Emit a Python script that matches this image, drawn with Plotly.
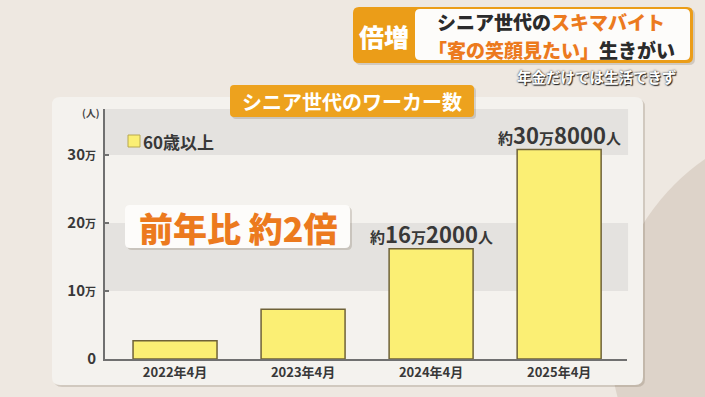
import plotly.graph_objects as go

# ---- data ----
categories = ["2022年4月", "2023年4月", "2024年4月", "2025年4月"]
workers = [27000, 73000, 162000, 308000]
labeled = [False, False, True, True]
series_name = "60歳以上"
y_tick_vals = [0, 100000, 200000, 300000]
y_tick_text = ["0", "10<span style='font-size:11px'>万</span>",
               "20<span style='font-size:11px'>万</span>",
               "30<span style='font-size:11px'>万</span>"]
y_max = 367600
band_ranges = [(100000, 200000), (300000, y_max)]
unit_label = "(人)"
chart_title = "シニア世代のワーカー数"
callout = "前年比 約2倍"
header_tag = "倍増"
header_line1 = ("シニア世代の", "スキマバイト")
header_line2 = ("「客の笑顔見たい」", "生きがい")
subheader = "年金だけでは生活できず"

FONT = "Noto Sans CJK JP"
DARK = "#383838"
ORANGE = "#ec7a1e"
W, H = 705, 397
ML, MR, MT, MB = 105, 78, 109, 38
PW, PH = W - ML - MR, H - MT - MB


def X(px):
    return (px - ML) / PW


def Y(py):
    return (H - MB - py) / PH


def rrect(x0, y0, x1, y1, r):
    # rounded rectangle in pixel coords -> path in paper coords
    pts = [
        f"M{X(x0 + r)},{Y(y0)}",
        f"L{X(x1 - r)},{Y(y0)}",
        f"Q{X(x1)},{Y(y0)} {X(x1)},{Y(y0 + r)}",
        f"L{X(x1)},{Y(y1 - r)}",
        f"Q{X(x1)},{Y(y1)} {X(x1 - r)},{Y(y1)}",
        f"L{X(x0 + r)},{Y(y1)}",
        f"Q{X(x0)},{Y(y1)} {X(x0)},{Y(y1 - r)}",
        f"L{X(x0)},{Y(y0 + r)}",
        f"Q{X(x0)},{Y(y0)} {X(x0 + r)},{Y(y0)}",
        "Z",
    ]
    return " ".join(pts)


shapes = []


def box(x0, y0, x1, y1, r, fill, shadow=True, line=None, layer="below"):
    if shadow:
        shapes.append(dict(type="path", xref="paper", yref="paper",
                           path=rrect(x0 + 2, y0 + 2, x1 + 2, y1 + 2, r),
                           fillcolor="rgba(80,60,40,0.18)", line=dict(width=0),
                           layer=layer))
    shapes.append(dict(type="path", xref="paper", yref="paper",
                       path=rrect(x0, y0, x1, y1, r), fillcolor=fill,
                       line=line or dict(width=0), layer=layer))


def note(px, py, text, size, color, weight=700, xanchor="center", **kw):
    return dict(x=X(px), y=Y(py), xref="paper", yref="paper", text=text,
                showarrow=False, xanchor=xanchor, yanchor="middle",
                font=dict(family=FONT, size=size, color=color, weight=weight, **kw))


# background decoration: darker region on right
shapes.append(dict(type="circle", xref="paper", yref="paper",
                   x0=X(610), x1=X(1050), y0=Y(560), y1=Y(120),
                   fillcolor="#ddd3c9", line=dict(width=0), layer="below"))
# panel
box(52, 97, 643, 385, 8, "#f4f2ee", shadow=True)
# gray bands
for lo, hi in band_ranges:
    shapes.append(dict(type="rect", xref="paper", yref="y", x0=0, x1=1.002,
                       y0=lo, y1=hi, fillcolor="#e4e2df", line=dict(width=0),
                       layer="below"))

fig = go.Figure()
fig.add_trace(go.Bar(
    x=categories, y=workers, name=series_name, width=0.656,
    marker=dict(color="#fbef74", line=dict(color="#6f6238", width=1.5)),
    showlegend=False, hoverinfo="skip",
))

annotations = []
# value labels
for c, v, show in zip(categories, workers, labeled):
    if not show:
        continue
    man, rest = divmod(v, 10000)
    txt = (f"<span style='font-size:15px'>約</span>{man}"
           f"<span style='font-size:15px'>万</span>{rest}"
           f"<span style='font-size:15px'>人</span>")
    annotations.append(dict(x=c, y=v, xref="x", yref="y", text=txt,
                            showarrow=False, xanchor="center", yanchor="bottom",
                            yshift=-2,
                            font=dict(family=FONT, size=22, color=DARK, weight=700)))

# unit label
annotations.append(note(91, 112, unit_label, 10, "#444"))

# legend (manual)
shapes.append(dict(type="rect", xref="paper", yref="paper",
                   x0=X(128), x1=X(140), y0=Y(147), y1=Y(135),
                   fillcolor="#fbef74", line=dict(color="#b8a850", width=1)))
annotations.append(note(141, 141, series_name, 17, DARK, xanchor="left"))

# chart title box
box(230, 85, 474, 117, 4, "#eda21e", shadow=True, layer="above")
annotations.append(note(352, 101, chart_title, 20, "white"))

# callout box
box(125, 205, 350, 248, 5, "#fdfcfa", shadow=True, layer="above")
annotations.append(note(238, 227, callout, 34, ORANGE, weight=900))

# header
box(353, 7, 693, 63, 6, "#eb9d18", shadow=True, layer="above")
box(415, 9, 690, 60, 5, "#fdfcfa", shadow=False, layer="above")
annotations.append(note(384, 36, header_tag, 25, "white", weight=900))
annotations.append(note(551, 22,
                        f"{header_line1[0]}<span style='color:{ORANGE}'>{header_line1[1]}</span>",
                        19, "#2b2b2b", weight=900))
annotations.append(note(551, 49.5,
                        f"<span style='color:{ORANGE}'>{header_line2[0]}</span>{header_line2[1]}",
                        19, "#2b2b2b", weight=900))
annotations.append(note(597, 76, subheader, 14.5, "white",
                        shadow="0 0 2px #222, 1px 1px 1px #222"))

fig.update_layout(
    width=W, height=H,
    margin=dict(l=ML, r=MR, t=MT, b=MB, pad=0),
    paper_bgcolor="#eee8e1",
    plot_bgcolor="rgba(0,0,0,0)",
    font=dict(family=FONT, color=DARK),
    shapes=shapes,
    annotations=annotations,
    xaxis=dict(
        type="category", categoryorder="array", categoryarray=categories,
        range=[-0.547, 3.53], showgrid=False, zeroline=False,
        showline=True, linecolor="#707070", linewidth=2,
        ticks="", tickfont=dict(family=FONT, size=13, color=DARK, weight=700),
        fixedrange=True,
    ),
    yaxis=dict(
        range=[0, y_max], tickvals=y_tick_vals, ticktext=y_tick_text,
        showgrid=False, zeroline=False, showline=True, linecolor="#707070",
        linewidth=2, ticks="inside", ticklen=4, tickwidth=2, tickcolor="#707070",
        ticklabelstandoff=4,
        tickfont=dict(family=FONT, size=15, color=DARK, weight=700),
        fixedrange=True,
    ),
    showlegend=False,
)

fig.write_html("out.html", config={"displayModeBar": False},
               post_script="document.body.style.margin='0';document.body.style.overflow='hidden';")
